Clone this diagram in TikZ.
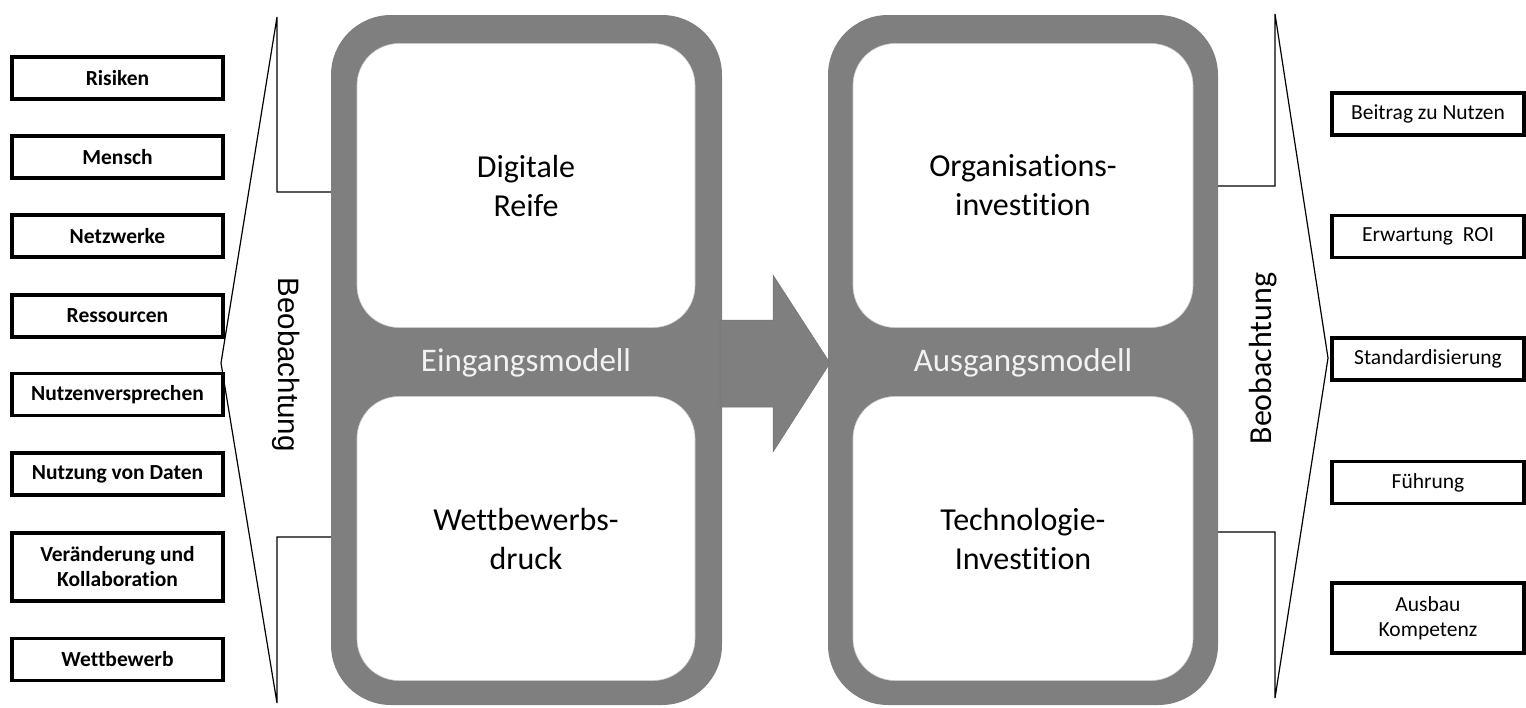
\documentclass[tikz,border=0pt]{standalone}
\usepackage{fontspec}
\setmainfont[Ligatures=NoCommon]{Carlito}
\newfontfamily\arialfont{Liberation Sans}
\definecolor{panelgray}{RGB}{127,127,127}
\tikzset{
  factor/.style={draw, line width=3.2pt, fill=white, minimum width=211pt, minimum height=42pt,
    inner sep=2pt, align=center, font=\bfseries\fontsize{21.5}{25}\selectfont},
  effect/.style={factor, minimum width=192pt, font=\fontsize{21.5}{25}\selectfont},
  panel/.style={fill=panelgray, rounded corners=60pt, minimum width=391pt, minimum height=690pt},
  field/.style={fill=white, draw=black!20, line width=0.6pt, rounded corners=42pt, minimum width=338pt,
    minimum height=284pt, align=center, font=\fontsize{32}{39}\selectfont},
  modelname/.style={text=white!95!black, font=\fontsize{33}{40}\selectfont},
  bracket/.style={fill=white, draw=black, line width=1.2pt}
}
\begin{document}
\begin{tikzpicture}[x=1pt,y=-1pt]
    \useasboundingbox (0,0) rectangle (1526,707);
    % Klammern links und rechts
    \filldraw[bracket] (340,192) -- (277,192) -- (277,17) -- (221,363) -- (277,703) -- (277,537) -- (340,537);
    \filldraw[bracket] (1210,186) -- (1275,186) -- (1275,14) -- (1328,358) -- (1275,698) -- (1275,532) -- (1210,532);
    \node[rotate=-90, font=\arialfont\fontsize{29.5}{34}\selectfont] (beoin) at (286,364.5) {Beobachtung};
    \node[rotate=90, font=\fontsize{32}{38}\selectfont] (beoaus) at (1263,358.5) {Beobachtung};

    % Modelle
    \node[panel] (ein) at (526.5,360) {};
    \node[panel, minimum width=390pt] (aus) at (1023,360) {};
    \fill[panelgray, draw=black!55, line width=0.5pt] (720,320) -- (773,320) -- (773,275) -- (830,363)
        -- (773,452) -- (773,407) -- (720,407) -- cycle;
    \node[field] (reife) at (526,185.5) {Digitale\\Reife};
    \node[field] (druck) at (526,538.5) {Wettbewerbs-\\druck};
    \node[field, minimum width=340pt] (orga) at (1023,185.5) {Organisations-\\investition};
    \node[field, minimum width=340pt] (tech) at (1023,538.5) {Technologie-\\Investition};
    \node[modelname] (eingang) at (526,363) {Eingangsmodell};
    \node[modelname] (ausgang) at (1023,363) {Ausgangsmodell};

    % Einflussfaktoren
    \node[factor] (risiken) at (117.5,78) {Risiken};
    \node[factor] (mensch) at (117.5,157) {Mensch};
    \node[factor] (netz) at (117.5,236) {Netzwerke};
    \node[factor] (ressourcen) at (117.5,316) {Ressourcen};
    \node[factor] (nutzen) at (117.5,394.5) {Nutzenversprechen};
    \node[factor] (daten) at (117.5,474) {Nutzung von Daten};
    \node[factor, minimum height=68pt] (wandel) at (117.5,567) {Veränderung und\\Kollaboration};
    \node[factor] (wettbewerb) at (117.5,659.5) {Wettbewerb};

    % Wirkungen
    \node[effect] (beitrag) at (1428,114) {Beitrag zu Nutzen};
    \node[effect] (roi) at (1428,236.5) {Erwartung\ \ ROI};
    \node[effect] (standard) at (1428,359) {Standardisierung};
    \node[effect] (fuehrung) at (1428,482.5) {Führung};
    \node[effect, minimum height=70pt] (kompetenz) at (1428,618) {Ausbau\\Kompetenz};
\end{tikzpicture}
\end{document}
